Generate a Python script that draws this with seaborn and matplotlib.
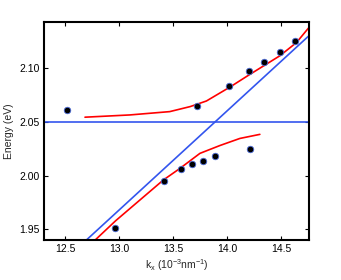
#!/usr/bin/env python3
import numpy as np
import pandas as pd
import matplotlib
matplotlib.use("Agg")
import matplotlib.pyplot as plt
import seaborn as sns

# measured points
k_up = [12.52, 13.72, 14.02, 14.20, 14.345, 14.49, 14.63]
e_up = [2.061, 2.0647, 2.0832, 2.097, 2.106, 2.1156, 2.125]
k_lo = [12.96, 13.417, 13.574, 13.68, 13.78, 13.89, 14.21]
e_lo = [1.9516, 1.9949, 2.006, 2.0105, 2.0138, 2.0185, 2.025]

# fitted branches (red)
k_fit_up = [12.685, 13.10, 13.47, 13.66, 13.81, 14.03, 14.20, 14.49, 14.645, 14.76]
e_fit_up = [2.0544, 2.0565, 2.0596, 2.0643, 2.0695, 2.0826, 2.0935, 2.1116, 2.124, 2.138]
k_fit_lo = [12.78, 12.97, 13.41, 13.565, 13.75, 13.935, 14.12, 14.305]
e_fit_lo = [1.94, 1.958, 1.9958, 2.0067, 2.0207, 2.028, 2.0346, 2.0384]

# uncoupled modes (blue)
k_ph = [12.30, 14.76]
e_ph = [1.9032, 2.1303]
k_ex = [12.30, 14.76]
e_ex = [2.05, 2.05]

sns.set_theme()
sns.set_style("ticks")
plt.rcParams['font.family'] = ['Liberation Sans', 'DejaVu Sans']
plt.rcParams['mathtext.default'] = 'regular'

fig = plt.figure(figsize=(3.41, 2.80), dpi=100)
ax = fig.add_axes([0.129, 0.143, 0.777, 0.778])

blue = '#3355ee'
sns.lineplot(x=k_ex, y=e_ex, color=blue, lw=1.2, ax=ax)
sns.lineplot(x=k_ph, y=e_ph, color=blue, lw=1.2, ax=ax)
sns.lineplot(x=k_fit_up, y=e_fit_up, color='red', lw=1.2, ax=ax, sort=False)
sns.lineplot(x=k_fit_lo, y=e_fit_lo, color='red', lw=1.2, ax=ax, sort=False)

pts = pd.DataFrame({'k': k_up + k_lo, 'e': e_up + e_lo})
sns.scatterplot(data=pts, x='k', y='e', color='black', edgecolor='#4a6ad8',
                linewidth=0.6, s=22, ax=ax, zorder=5)

ax.set_xlim(12.305, 14.76)
ax.set_ylim(1.94, 2.143)
ax.set_xticks([12.5, 13.0, 13.5, 14.0, 14.5])
ax.set_yticks([1.95, 2.00, 2.05, 2.10])
ax.set_xticklabels(['12.5', '13.0', '13.5', '14.0', '14.5'])
ax.set_yticklabels(['1.95', '2.00', '2.05', '2.10'])
ax.tick_params(direction='in', top=True, right=True, length=3, width=0.8,
               labelsize=7.5, colors='black', pad=3)
for s in ax.spines.values():
    s.set_linewidth(1.5)
    s.set_color('black')
ax.set_xlabel('k$_x$ (10$^{-3}$nm$^{-1}$)', fontsize=7.5, labelpad=2)
ax.set_ylabel('Energy (eV)', fontsize=7.5, labelpad=4)
ax.grid(False)

plt.savefig('out.png', dpi=100)
